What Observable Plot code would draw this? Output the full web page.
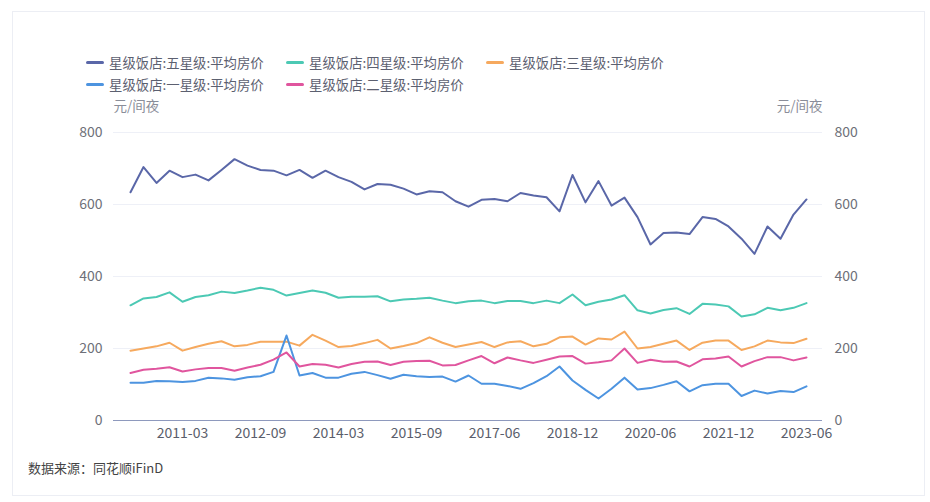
<!DOCTYPE html>
<html>
<head>
<meta charset="utf-8">
<script src="https://cdn.jsdelivr.net/npm/d3@7"></script>
<script src="https://cdn.jsdelivr.net/npm/@observablehq/plot@0.6"></script>
<style>
  body { margin: 0; background: #fff; font-family: "Noto Sans CJK SC", "Noto Sans", sans-serif; }
  #wrap { position: relative; width: 930px; height: 502px; overflow: hidden; background: #fff; }
  #card { position: absolute; left: 12px; top: 11px; width: 913px; height: 485px; border: 1px solid #eceef4; box-sizing: border-box; }
  .leg { position: absolute; height: 20px; display: flex; align-items: center; font-size: 13.4px; color: #5c6070; white-space: nowrap; }
  .leg i { display: inline-block; width: 18px; height: 3px; border-radius: 1.5px; margin-right: 5px; }
  #cap { position: absolute; left: 28px; top: 458px; font-size: 13px; color: #444; }
  #chart { position: absolute; left: 0; top: 0; }
</style>
</head>
<body>
<div id="wrap">
  <div id="card"></div>
  <div id="chart"></div>
  <div id="legend"></div>
  <div id="cap">数据来源：同花顺iFinD</div>
</div>
<script>
// Quarterly categories (one quarter absent in source between 2015-09 and 2017-06)
const dates = [
  "2010-03","2010-06","2010-09","2010-12","2011-03","2011-06","2011-09","2011-12",
  "2012-03","2012-06","2012-09","2012-12","2013-03","2013-06","2013-09","2013-12",
  "2014-03","2014-06","2014-09","2014-12","2015-03","2015-06","2015-09","2015-12",
  "2016-03","2016-06","2016-09","2017-03","2017-06","2017-09","2017-12","2018-03",
  "2018-06","2018-09","2018-12","2019-03","2019-06","2019-09","2019-12","2020-03",
  "2020-06","2020-09","2020-12","2021-03","2021-06","2021-09","2021-12","2022-03",
  "2022-06","2022-09","2022-12","2023-03","2023-06"
];
const tickLabels = ["2011-03","2012-09","2014-03","2015-09","2017-06","2018-12","2020-06","2021-12","2023-06"];

const fiveStar = [634,704,660,694,676,683,667,696,726,708,696,694,681,696,674,694,676,663,642,657,
  655,644,628,637,634,609,594,613,615,609,632,625,620,581,682,606,665,597,619,565,
  489,521,522,518,565,560,539,505,463,539,505,572,614];
const fourStar = [320,339,343,356,330,343,348,358,354,361,369,363,347,354,
  361,355,341,344,344,345,331,336,338,341,333,326,331,333,
  326,332,332,326,333,326,350,320,330,336,348,306,297,307,
  312,296,324,322,317,289,295,313,306,313,326];
const threeStar = [194,200,206,216,194,204,213,220,206,210,219,219,219,208,
  238,222,204,207,215,224,200,207,215,231,216,204,211,218,
  204,217,220,206,213,231,233,211,228,225,247,200,204,213,
  222,196,216,222,222,196,206,222,217,215,227];
const oneStar = [105,105,110,109,107,110,119,117,113,120,123,135,236,125,
  132,119,119,130,135,126,116,127,123,121,122,108,125,102,
  102,96,88,104,123,150,111,85,61,88,119,86,90,99,
  109,81,98,102,102,68,83,75,82,79,95];
const twoStar = [132,141,144,148,136,142,146,146,138,147,155,169,189,150,
  157,155,147,157,163,164,154,163,165,166,153,154,167,179,
  159,175,167,160,169,178,179,158,162,167,200,160,169,163,
  164,150,170,172,178,150,165,176,176,167,175];

const seriesNames = ["星级饭店:五星级:平均房价","星级饭店:四星级:平均房价","星级饭店:三星级:平均房价","星级饭店:一星级:平均房价","星级饭店:二星级:平均房价"];
const seriesValues = [fiveStar, fourStar, threeStar, oneStar, twoStar];
const seriesColors = ["#5a67a8","#4cc9b4","#f6a95e","#4d94e0","#e0559e"];
const yTicks = [0,200,400,600,800];
const unitLabel = "元/间夜";

const rows = [];
seriesNames.forEach((name, k) => {
  seriesValues[k].forEach((v, i) => rows.push({series: name, date: dates[i], value: v}));
});

const chart = Plot.plot({
  width: 930,
  height: 502,
  marginLeft: 113,
  marginRight: 108,
  marginTop: 132,
  marginBottom: 82,
  style: {fontFamily: '"Noto Sans CJK SC", "Noto Sans", sans-serif', fontSize: "14px", color: "#6e7079", background: "transparent"},
  x: {type: "point", domain: dates, padding: 0.5},
  y: {domain: [0, 800]},
  color: {domain: seriesNames, range: seriesColors},
  marks: [
    Plot.ruleY(yTicks.filter(d => d > 0), {stroke: "#eef0f7", strokeWidth: 1}),
    Plot.ruleY([0], {stroke: "#8e99bd", strokeWidth: 1}),
    Plot.axisY(yTicks, {anchor: "left", tickSize: 0, tickPadding: 11, label: null, fontSize: 14, color: "#6e7079"}),
    Plot.axisY(yTicks, {anchor: "right", tickSize: 0, tickPadding: 12, label: null, fontSize: 14, color: "#6e7079"}),
    Plot.axisX(tickLabels, {tickSize: 0, tickPadding: 8, label: null, fontSize: 14, color: "#5a5e6b"}),
    Plot.line(rows, {x: "date", y: "value", z: "series", stroke: "series", strokeWidth: 2, curve: "linear"}),
    Plot.text([unitLabel], {frameAnchor: "top-left", dy: -31, textAnchor: "start", fill: "#8a8d99", fontSize: 13.5}),
    Plot.text([unitLabel], {frameAnchor: "top-right", dy: -31, textAnchor: "end", fill: "#8a8d99", fontSize: 13.5})
  ]
});
document.getElementById("chart").appendChild(chart);

// Legend
const legendPos = [[86,52],[286,52],[486,52],[86,74],[286,74]];
const leg = document.getElementById("legend");
seriesNames.forEach((name, k) => {
  const d = document.createElement("div");
  d.className = "leg";
  d.style.left = legendPos[k][0] + "px";
  d.style.top = legendPos[k][1] + "px";
  const sw = document.createElement("i");
  sw.style.background = seriesColors[k];
  d.appendChild(sw);
  d.appendChild(document.createTextNode(name));
  leg.appendChild(d);
});
</script>
</body>
</html>
